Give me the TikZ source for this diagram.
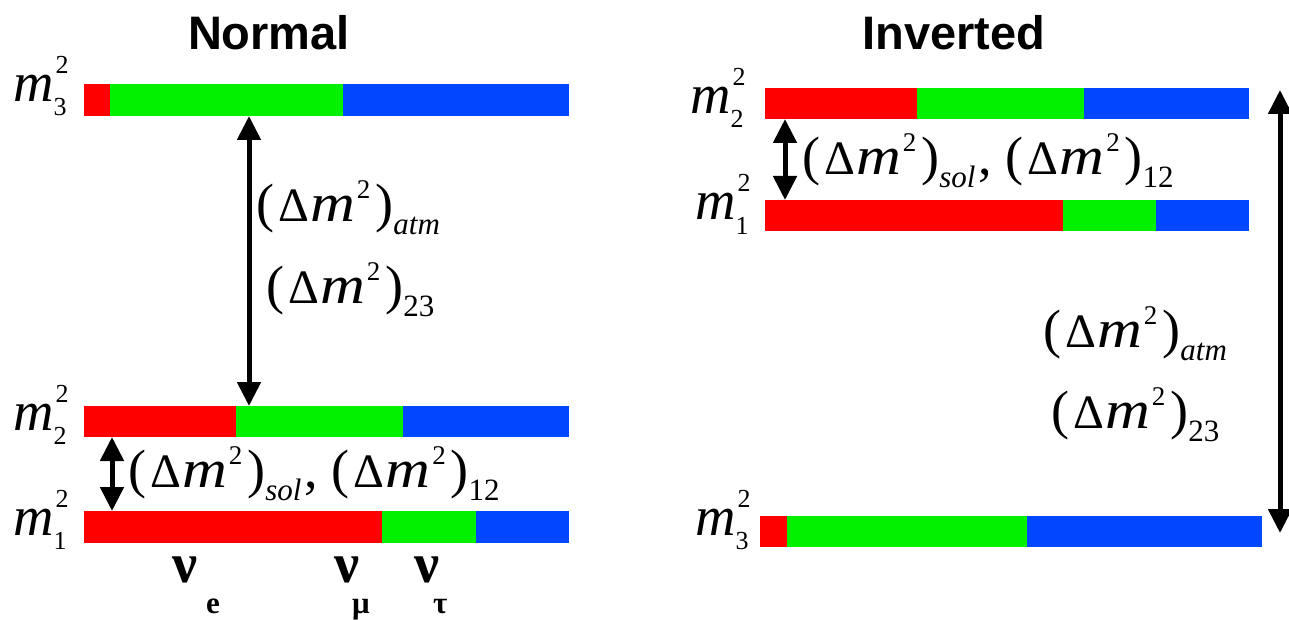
\documentclass[tikz,border=0pt]{standalone}
\usepackage{fontspec}
\setmainfont{Liberation Serif}
\newfontfamily\serifm{Liberation Serif}
\newfontfamily\titlefont{Liberation Sans}
\usepackage{graphicx}
\usetikzlibrary{arrows.meta}
\definecolor{cred}{HTML}{FF0000}
\definecolor{cgreen}{HTML}{00F000}
\definecolor{cblue}{HTML}{0047FF}
\newcommand\fs[1]{\fontsize{#1}{#1}\selectfont}
\newcommand\dmsq[1]{(\kern4pt{\fs{48}Δ}\kern1pt\scalebox{1.15}[1]{\itshape m}\kern2pt\raisebox{23pt}{\fs{27}2}\kern5pt)\raisebox{-13pt}{\fs{31}#1}}
\newcommand\mlab[1]{\textit{m}\rlap{\kern2pt\raisebox{28pt}{\fs{26}2}}\raisebox{-14pt}{\fs{26}#1}}
\newcommand\levelbar[6]{%
  \fill[cred] (#1,#5) rectangle (#2,#6);
  \fill[cgreen] (#2,#5) rectangle (#3,#6);
  \fill[cblue] (#3,#5) rectangle (#4,#6);}
\begin{document}
\begin{tikzpicture}[x=1pt,y=-1pt,
  lab/.style={inner sep=0pt,anchor=base west,font=\serifm\fs{54}},
  mlabel/.style={inner sep=0pt,anchor=base west,font=\serifm\fs{56}},
  nulabel/.style={inner sep=0pt,anchor=base west,font=\serifm\fs{56}\bfseries},
  nusub/.style={inner sep=0pt,anchor=base west,font=\serifm\fs{31}\bfseries},
  title/.style={inner sep=0pt,anchor=base,font=\titlefont\fs{47}\bfseries},
  dbl/.style={line width=5pt,{Triangle[width=23pt,length=24pt]}-{Triangle[width=23pt,length=24pt]}}]
\useasboundingbox (0,0) rectangle (1289,620);
\fill[white] (0,0) rectangle (1289,620);
% titles
\node[title] (tN) at (269,50) {Normal};
\node[title] (tI) at (954,50) {Inverted};
% left bars
\levelbar{84}{110}{343}{569}{84}{116}
\levelbar{84}{236}{403}{569}{406}{437}
\levelbar{84}{382}{476}{569}{511}{543}
% right bars
\levelbar{765}{917}{1084}{1249}{88}{119}
\levelbar{765}{1063}{1156}{1249}{200}{231}
\levelbar{760}{787}{1027}{1262}{516}{547}
% mass labels
\node[mlabel] (Lm3) at (13,102) {\mlab{3}};
\node[mlabel] (Lm2) at (13,430) {\mlab{2}};
\node[mlabel] (Lm1) at (13,535) {\mlab{1}};
\node[mlabel] (Rm2) at (690,114) {\mlab{2}};
\node[mlabel] (Rm1) at (695,220) {\mlab{1}};
\node[mlabel] (Rm3) at (695,535) {\mlab{3}};
% arrows
\coordinate (LAt) at (249,116); \coordinate (LAb) at (249,406);
\coordinate (LSt) at (112,437); \coordinate (LSb) at (112,511);
\coordinate (RSt) at (785,119); \coordinate (RSb) at (785,200);
\coordinate (RAt) at (1280,90); \coordinate (RAb) at (1280,533);
\draw[dbl] (LAt) -- (LAb);
\draw[dbl] (LSt) -- (LSb);
\draw[dbl] (RSt) -- (RSb);
\draw[dbl] (RAt) -- (RAb);
% difference labels
\node[lab] (La1) at (256,222) {\dmsq{\itshape atm}};
\node[lab] (La2) at (266,303) {\dmsq{23}};
\node[lab] (Ls) at (128,487) {\dmsq{\itshape sol}\kern3pt, \dmsq{12}};
\node[lab] (Rs) at (802,175) {\dmsq{\itshape sol}\kern3pt, \dmsq{12}};
\node[lab] (Ra1) at (1043,347) {\dmsq{\itshape atm}};
\node[lab] (Ra2) at (1051,428) {\dmsq{23}};
% flavour labels
\node[nulabel] (ne) at (172,582) {ν};
\node[nusub] (nes) at (206,613) {e};
\node[nulabel] (nm) at (334,582) {ν};
\node[nusub] (nms) at (352,613) {μ};
\node[nulabel] (nt) at (414,582) {ν};
\node[nusub] (nts) at (433,613) {τ};
\end{tikzpicture}
\end{document}
